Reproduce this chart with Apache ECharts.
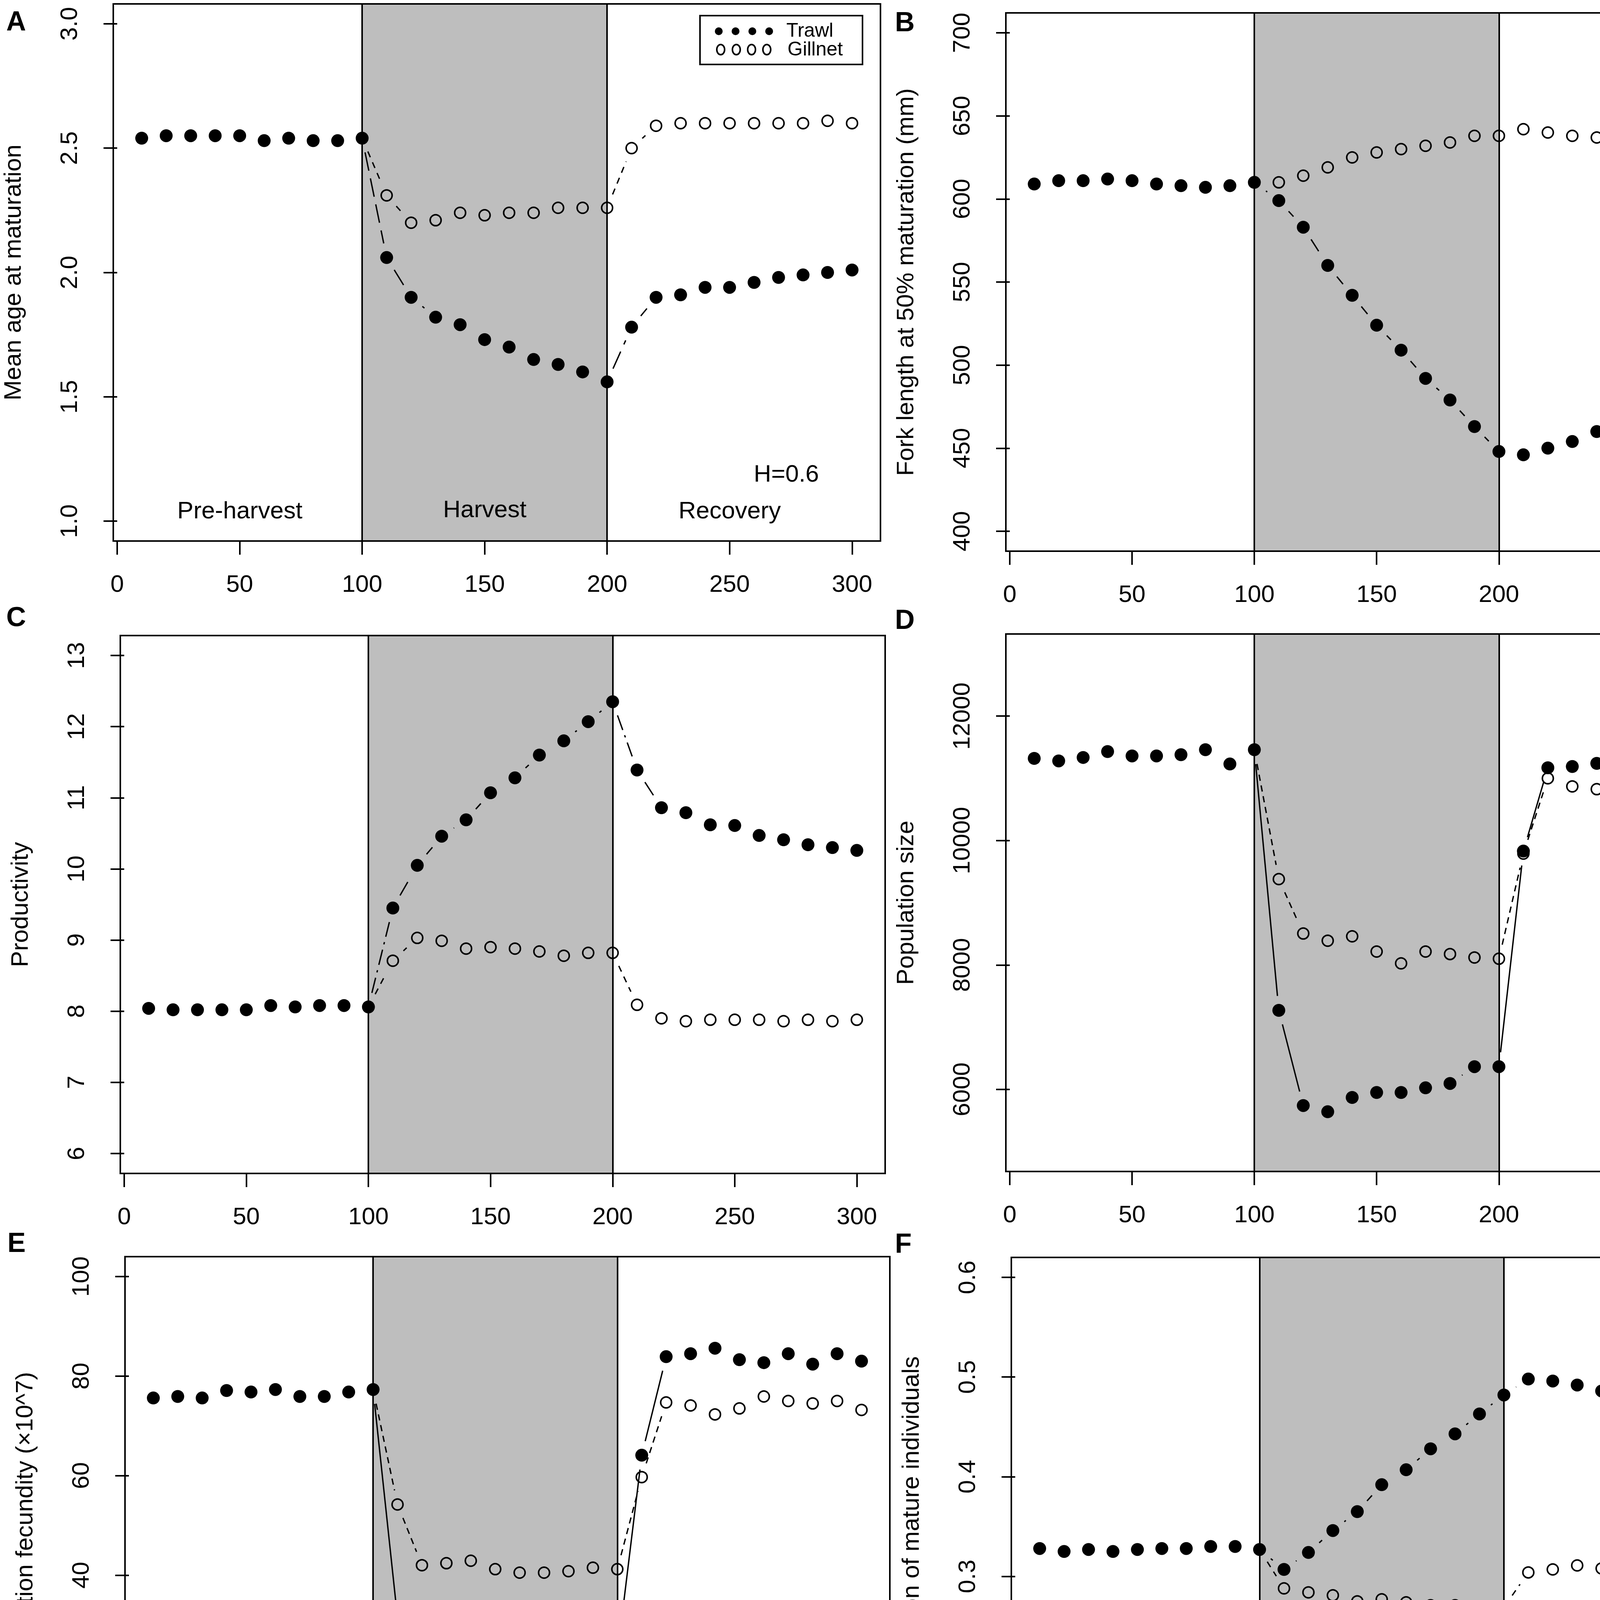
<!DOCTYPE html>
<html>
<head>
<meta charset="utf-8">
<script src="https://cdn.jsdelivr.net/npm/echarts@6/dist/echarts.min.js"></script>
<style>
  html, body { margin: 0; padding: 0; background: #fff; }
  #main { width: 4562px; height: 4893px; }
</style>
</head>
<body>
<div id="main"></div>
<script>
/******************************** data ********************************/
var year = [10, 20, 30, 40, 50, 60, 70, 80, 90, 100, 110, 120, 130, 140, 150, 160, 170, 180, 190, 200, 210, 220, 230, 240, 250, 260, 270, 280, 290, 300];
var yearGill = [100, 110, 120, 130, 140, 150, 160, 170, 180, 190, 200, 210, 220, 230, 240, 250, 260, 270, 280, 290, 300];
var xTicks = [0, 50, 100, 150, 200, 250, 300];

// A - mean age at maturation
var ageTrawl = [2.54, 2.55, 2.55, 2.55, 2.55, 2.53, 2.54, 2.53, 2.53, 2.54, 2.06, 1.90, 1.82, 1.79, 1.73, 1.70, 1.65, 1.63, 1.60, 1.56, 1.78, 1.90, 1.91, 1.94, 1.94, 1.96, 1.98, 1.99, 2.00, 2.01];
var ageGill = [2.54, 2.31, 2.20, 2.21, 2.24, 2.23, 2.24, 2.24, 2.26, 2.26, 2.26, 2.50, 2.59, 2.60, 2.60, 2.60, 2.60, 2.60, 2.60, 2.61, 2.60];
var ageTicks = [1.0, 1.5, 2.0, 2.5, 3.0];

// B - fork length at 50% maturation
var lenTrawl = [609, 611, 611, 612, 611, 609, 608, 607, 608, 610, 599, 583, 560, 542, 524, 509, 492, 479, 463, 448, 446, 450, 454, 460, 462, 467, 470, 473, 476, 478];
var lenGill = [610, 610, 614, 619, 625, 628, 630, 632, 634, 638, 638, 642, 640, 638, 637, 635, 635, 635, 635, 634, 633];
var lenTicks = [400, 450, 500, 550, 600, 650, 700];

// C - productivity
var prodTrawl = [8.04, 8.02, 8.02, 8.02, 8.02, 8.08, 8.06, 8.08, 8.08, 8.06, 9.45, 10.05, 10.46, 10.69, 11.07, 11.28, 11.60, 11.80, 12.07, 12.35, 11.39, 10.86, 10.79, 10.62, 10.61, 10.47, 10.41, 10.34, 10.30, 10.26];
var prodGill = [8.06, 8.71, 9.03, 8.99, 8.88, 8.90, 8.88, 8.84, 8.78, 8.82, 8.82, 8.09, 7.90, 7.86, 7.88, 7.88, 7.88, 7.86, 7.88, 7.86, 7.88];
var prodTicks = [6, 7, 8, 9, 10, 11, 12, 13];

// D - population size
var popTrawl = [11320, 11280, 11335, 11430, 11360, 11360, 11380, 11460, 11230, 11460, 7270, 5740, 5640, 5870, 5950, 5950, 6025, 6095, 6365, 6365, 9830, 11170, 11190, 11240, 11125, 11360, 11315, 11145, 11335, 11285];
var popGill = [11460, 9380, 8505, 8390, 8460, 8215, 8025, 8215, 8175, 8120, 8100, 9790, 11000, 10870, 10825, 10800, 10915, 10850, 11130, 10980, 11075];
var popTicks = [6000, 8000, 10000, 12000];

// E - population fecundity
var fecTrawl = [75.6, 75.9, 75.6, 77.1, 76.8, 77.3, 75.9, 75.9, 76.8, 77.3, 31.4, 18.2, 17.9, 19.4, 20.3, 20.7, 21.6, 22.2, 23.5, 24.0, 64.1, 83.9, 84.5, 85.6, 83.3, 82.7, 84.5, 82.4, 84.5, 83.0];
var fecGill = [77.3, 54.2, 42.0, 42.4, 42.9, 41.2, 40.5, 40.5, 40.8, 41.5, 41.2, 59.7, 74.7, 74.1, 72.3, 73.5, 75.9, 75.0, 74.5, 75.0, 73.2];
var fecTicks = [0, 20, 40, 60, 80, 100];

// F - proportion of mature individuals
var propTrawl = [0.328, 0.325, 0.327, 0.325, 0.327, 0.328, 0.328, 0.330, 0.330, 0.327, 0.307, 0.324, 0.346, 0.365, 0.392, 0.407, 0.428, 0.443, 0.463, 0.482, 0.498, 0.496, 0.492, 0.486, 0.484, 0.475, 0.472, 0.472, 0.464, 0.461];
var propGill = [0.327, 0.288, 0.284, 0.281, 0.275, 0.277, 0.274, 0.271, 0.271, 0.266, 0.269, 0.304, 0.307, 0.311, 0.308, 0.311, 0.311, 0.311, 0.310, 0.310, 0.311];
var propTicks = [0.1, 0.2, 0.3, 0.4, 0.5, 0.6];

/******************************** layout ********************************/
var FONT = 'Liberation Sans, Arial, Helvetica, sans-serif';
var GAP = 37;      // blank space left around each point (like R type="b")
var LW = 3.5;

var panels = [
    {letter: 'A', lx: 41, ly: 54, grid: {left: 290, top: 10, width: 1964, height: 1375}, yMin: 0.92, yMax: 3.08, ticks: ageTicks, dec: 1,
     yName: 'Mean age at maturation', trawl: ageTrawl, gill: ageGill, tDash: [48, 20], gDash: [16, 14]},
    {letter: 'B', lx: 2316, ly: 56, grid: {left: 2575, top: 33, width: 1961, height: 1378}, yMin: 388, yMax: 712, ticks: lenTicks, dec: 0,
     yName: 'Fork length at 50% maturation (mm)', trawl: lenTrawl, gill: lenGill, tDash: [36, 18], gDash: [16, 14]},
    {letter: 'C', lx: 41, ly: 1579, grid: {left: 308, top: 1627, width: 1958, height: 1377}, yMin: 5.72, yMax: 13.28, ticks: prodTicks, dec: 0,
     yName: 'Productivity', trawl: prodTrawl, gill: prodGill, tDash: [40, 14, 6, 14], gDash: [16, 14]},
    {letter: 'D', lx: 2316, ly: 1586, grid: {left: 2575, top: 1623, width: 1961, height: 1376}, yMin: 4680, yMax: 13320, ticks: popTicks, dec: 0,
     yName: 'Population size', trawl: popTrawl, gill: popGill, tDash: null, gDash: [16, 12]},
    {letter: 'E', lx: 44, ly: 3181, grid: {left: 320, top: 3217, width: 1958, height: 1376}, yMin: -4, yMax: 104, ticks: fecTicks, dec: 0,
     yName: 'Population fecundity (×10^7)', trawl: fecTrawl, gill: fecGill, tDash: null, gDash: [16, 12], xName: 'Year'},
    {letter: 'F', lx: 2316, ly: 3183, grid: {left: 2589, top: 3219, width: 1959, height: 1378}, yMin: 0.08, yMax: 0.62, ticks: propTicks, dec: 1,
     yName: 'Proportion of mature individuals', trawl: propTrawl, gill: propGill, tDash: [30, 14, 6, 14], gDash: [16, 14], xName: 'Year'}
];

// [x, y] pairs for points
function pairs(xs, ys) {
    var out = [];
    for (var i = 0; i < xs.length; i++) out.push([xs[i], ys[i]]);
    return out;
}
// consecutive segments [x0, y0, x1, y1]
function segments(xs, ys) {
    var out = [];
    for (var i = 0; i < xs.length - 1; i++) out.push([xs[i], ys[i], xs[i + 1], ys[i + 1]]);
    return out;
}
// draws a segment shortened at both ends, skipped when too short
function segRender(dash) {
    return function (params, api) {
        var p0 = api.coord([api.value(0), api.value(1)]);
        var p1 = api.coord([api.value(2), api.value(3)]);
        var dx = p1[0] - p0[0], dy = p1[1] - p0[1];
        var len = Math.sqrt(dx * dx + dy * dy);
        if (len <= 2 * GAP) return {type: 'group', children: []};
        var ux = dx / len, uy = dy / len;
        return {
            type: 'line',
            shape: {x1: p0[0] + ux * GAP, y1: p0[1] + uy * GAP, x2: p1[0] - ux * GAP, y2: p1[1] - uy * GAP},
            style: {stroke: '#000', lineWidth: LW, lineDash: dash}
        };
    };
}

var grids = [], xAxes = [], yAxes = [], series = [], graphics = [];

panels.forEach(function (p, i) {
    grids.push({
        left: p.grid.left, top: p.grid.top, width: p.grid.width, height: p.grid.height,
        show: true, borderColor: '#000', borderWidth: 4, backgroundColor: 'transparent', z: 10
    });
    xAxes.push({
        gridIndex: i, type: 'value', min: -1.6, max: 311.6,
        name: p.xName || '', nameLocation: 'middle', nameGap: 232,
        nameTextStyle: {fontSize: 62, fontFamily: FONT, color: '#000'},
        axisLine: {show: false},
        axisTick: {show: true, length: 35, customValues: xTicks, lineStyle: {color: '#000', width: 4}},
        axisLabel: {customValues: xTicks, margin: 82, fontSize: 62, lineHeight: 62, fontFamily: FONT, color: '#000'},
        splitLine: {show: false}
    });
    yAxes.push({
        gridIndex: i, type: 'value', min: p.yMin, max: p.yMax,
        name: p.yName, nameLocation: 'middle', nameRotate: 90, nameGap: 223,
        nameTextStyle: {fontSize: 62, fontFamily: FONT, color: '#000'},
        axisLine: {show: false},
        axisTick: {show: true, length: 35, customValues: p.ticks, lineStyle: {color: '#000', width: 4}},
        axisLabel: {
            customValues: p.ticks, rotate: 90, margin: 79, fontSize: 62, lineHeight: 62, fontFamily: FONT, color: '#000',
            formatter: (function (d) { return function (v) { return v.toFixed(d); }; })(p.dec)
        },
        splitLine: {show: false}
    });

    // harvest period shading
    series.push({
        type: 'line', xAxisIndex: i, yAxisIndex: i, data: [], z: 1, silent: true,
        markArea: {silent: true, itemStyle: {color: '#bebebe', opacity: 1}, data: [[{xAxis: 100}, {xAxis: 200}]]}
    });
    // period boundaries
    series.push({
        type: 'line', xAxisIndex: i, yAxisIndex: i, data: [], z: 2, silent: true,
        markLine: {silent: true, symbol: ['none', 'none'], label: {show: false},
            lineStyle: {type: 'solid', color: '#000', width: 4, opacity: 1},
            data: [{xAxis: 100}, {xAxis: 200}]}
    });
    // connecting lines
    series.push({
        type: 'custom', xAxisIndex: i, yAxisIndex: i, z: 3, silent: true,
        renderItem: segRender(p.gDash), encode: {x: [0, 2], y: [1, 3]},
        data: segments(yearGill, p.gill)
    });
    series.push({
        type: 'custom', xAxisIndex: i, yAxisIndex: i, z: 3, silent: true,
        renderItem: segRender(p.tDash), encode: {x: [0, 2], y: [1, 3]},
        data: segments(year, p.trawl)
    });
    // points
    series.push({
        name: 'Gillnet', type: 'scatter', xAxisIndex: i, yAxisIndex: i, z: 4,
        symbol: 'circle', symbolSize: 28,
        itemStyle: {color: 'rgba(0,0,0,0)', borderColor: '#000', borderWidth: 4, opacity: 1},
        data: pairs(yearGill, p.gill)
    });
    series.push({
        name: 'Trawl', type: 'scatter', xAxisIndex: i, yAxisIndex: i, z: 5,
        symbol: 'circle', symbolSize: 33,
        itemStyle: {color: '#000', opacity: 1},
        data: pairs(year, p.trawl)
    });

    graphics.push({
        type: 'text', left: p.lx - 25, top: p.ly - 30,
        style: {text: p.letter, fontSize: 70, fontWeight: 'bold', fontFamily: FONT, fill: '#000'}
    });
});

// period labels and legend of panel A
function label(txt, x, y) {
    return {type: 'text', x: x, y: y, z: 20,
        style: {text: txt, fontSize: 62, fontFamily: FONT, fill: '#000', align: 'center', verticalAlign: 'middle'}};
}
graphics.push(label('Pre-harvest', 614, 1310));
graphics.push(label('Harvest', 1241, 1307));
graphics.push(label('Recovery', 1868, 1310));
graphics.push(label('H=0.6', 2013, 1216));

graphics.push({type: 'rect', z: 20, shape: {x: 1792, y: 40, width: 416, height: 125},
    style: {fill: '#fff', stroke: '#000', lineWidth: 4}});
[1840, 1883, 1926, 1969].forEach(function (cx) {
    graphics.push({type: 'circle', z: 21, shape: {cx: cx, cy: 80, r: 10}, style: {fill: '#000'}});
});
[1845, 1885, 1924, 1963].forEach(function (cx) {
    graphics.push({type: 'ellipse', z: 21, shape: {cx: cx, cy: 127, rx: 10, ry: 13}, style: {fill: 'none', stroke: '#000', lineWidth: 4}});
});
graphics.push({type: 'text', x: 2013, y: 80, z: 21,
    style: {text: 'Trawl', fontSize: 50, fontFamily: FONT, fill: '#000', verticalAlign: 'middle'}});
graphics.push({type: 'text', x: 2016, y: 128, z: 21,
    style: {text: 'Gillnet', fontSize: 50, fontFamily: FONT, fill: '#000', verticalAlign: 'middle'}});

var chart = echarts.init(document.getElementById('main'));
chart.setOption({
    backgroundColor: '#fff',
    animation: false,
    grid: grids,
    xAxis: xAxes,
    yAxis: yAxes,
    series: series,
    graphic: graphics
});
</script>
</body>
</html>
